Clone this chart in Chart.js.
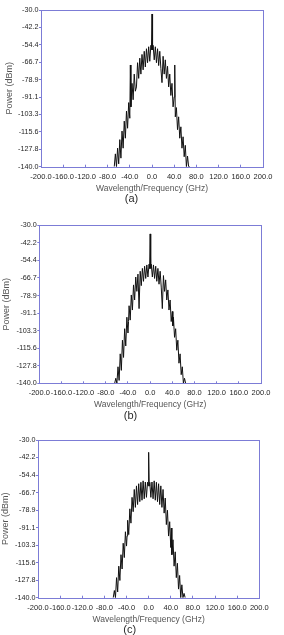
<!DOCTYPE html>
<html><head><meta charset="utf-8">
<script src="https://cdn.jsdelivr.net/npm/chart.js@4"></script>
<style>
html,body{margin:0;padding:0;background:#fff;width:284px;height:635px;overflow:hidden}
canvas{position:absolute;left:0}
</style></head><body>
<canvas id="ca" width="284" height="210" style="top:0px"></canvas>
<canvas id="cb" width="284" height="215" style="top:210px"></canvas>
<canvas id="cc" width="284" height="210" style="top:425px"></canvas>
<script>
// Frequency offsets (GHz) at which the spectra are sampled
const freq = [-68,-66,-64,-62,-60,-58,-56,-54,-52,-50,-48,-46,-44,-42,-40,
  -39,
  -38,-36,-34,-32,-30,-28,-26,-24,-22,-20,-18,-16,-14,-12,-10,-8,-6,-4,-2,
  -1,0,1,
  2,4,6,8,10,12,14,16,18,20,22,24,26,28,30,32,34,36,38,40,
  41,
  42,44,46,48,50,52,54,56,58,60,62,64,66,68];

// Power (dBm), panel (a)
const powerA = [-140,-131,-140,-127,-138,-121,-134,-115,-127,-108,-120,-101,-113,-95,-106,
  -68.6,
  -98,-81.5,-93,-75,-87,-84,-67,-78,-63.8,-75,-61.2,-72,-59,-70,-57.2,-67,-55.8,-66,-54.8,
  -58,-32.8,-58,
  -54.8,-65,-55.8,-67,-57.2,-69,-59,-71,-81,-62.5,-75,-65,-78,-69.5,-84,-75,-90,-81.5,-98,-91,
  -68.6,
  -105,-98.5,-114,-105,-120,-112,-127,-119,-133,-125,-140,-132.5,-140,-140];

// Power (dBm), panel (b)
const powerB = [null,null,-140,-136.5,-140,-128.5,-138,-119.5,-131,-110,-122,-102,-114,-94,-105,
  -97,
  -86,-96,-78.5,-89,-71.5,-82,-66,-76,-64,-88,-62,-72,-60,-69,-58.5,-67,-57.6,-66,-57.1,
  -60,-36,-60,
  -57.1,-66,-57.6,-67,-58.5,-69,-60,-71,-62,-73,-88,-65,-76,-68,-82,-75,-89,-82,-97,-90,
  -100,
  -94,-108,-102,-117,-110,-126,-119.5,-134,-128.5,-140,-136.5,-140,null,null];

// Power (dBm), panel (c)
const powerC = [null,null,-140,-135,-140,-126,-136,-118,-128,-110,-120,-102,-112,-94,-104,
  -97,
  -86,-96,-78,-88,-70,-80,-64.5,-77,-62,-75,-60.5,-73,-59.5,-72,-58.5,-71,-59.3,-70,-59.5,
  -62,-38.6,-62,
  -59.5,-70,-59.3,-71,-58.5,-72,-59.5,-73,-60.5,-75,-62,-77,-64.5,-81,-70.5,-89,-79,-97,-87,-105,
  -91.4,
  -110,-99.6,-118,-108,-126,-116,-134,-124.5,-140,-131,-140,-137,-140,null];

const panelLabels = ['(a)', '(b)', '(c)'];
const xTickValues = [-200,-160,-120,-80,-40,0,40,80,120,160,200];
const yTickValues = [-30,-42.22,-54.44,-66.67,-78.89,-91.11,-103.33,-115.56,-127.78,-140];
const yTickLabels = ['-30.0','-42.2','-54.4','-66.7','-78.9','-91.1','-103.3','-115.6','-127.8','-140.0'];
const xTitle = 'Wavelength/Frequency (GHz)';
const yTitle = 'Power (dBm)';

const FRAME = '#7c7cd6';
const FONT = "'Liberation Sans', Arial, sans-serif";

const framePlugin = {
  id: 'frame',
  afterDatasetsDraw(chart) {
    const a = chart.chartArea, c = chart.ctx;
    c.save();
    c.strokeStyle = FRAME;
    c.lineWidth = 1;
    c.strokeRect(Math.round(a.left) + 0.5, Math.round(a.top) + 0.5,
      Math.round(a.right - a.left), Math.round(a.bottom - a.top));
    c.restore();
  }
};

function makePanel(id, power, label, g) {
  new Chart(document.getElementById(id), {
    type: 'line',
    data: {
      datasets: [{
        data: freq.map((f, i) => ({ x: f, y: power[i] })),
        borderColor: '#111',
        borderWidth: 1,
        pointRadius: 0,
        tension: 0,
        spanGaps: false
      }]
    },
    options: {
      responsive: false,
      animation: false,
      devicePixelRatio: 1,
      layout: { padding: { top: g.top, left: 0, right: g.right, bottom: g.bottom } },
      plugins: {
        legend: { display: false },
        tooltip: { enabled: false },
        title: {
          display: true, position: 'bottom', text: label, color: '#2a2a2a',
          font: { family: FONT, size: 11, lineHeight: 0.8, weight: 'normal' }, padding: 0
        }
      },
      scales: {
        x: {
          type: 'linear', min: -200, max: 200,
          afterFit(s) { s.height = g.xh; },
          afterBuildTicks(s) { s.ticks = xTickValues.map(v => ({ value: v })); },
          ticks: {
            autoSkip: false, maxRotation: 0, minRotation: 0, padding: 7.5, color: '#262626',
            font: { family: FONT, size: 7.5 }, callback: v => Number(v).toFixed(1)
          },
          grid: { drawOnChartArea: false, drawTicks: true, tickLength: -2, color: FRAME },
          border: { display: false },
          title: {
            display: true, text: xTitle, color: '#555',
            font: { family: FONT, size: 8.5, lineHeight: 1 }, padding: { top: 0, bottom: g.xtp }
          }
        },
        y: {
          type: 'linear', min: -140, max: -30,
          afterFit(s) { s.width = g.left; },
          afterBuildTicks(s) { s.ticks = yTickValues.map(v => ({ value: v })); },
          ticks: {
            autoSkip: false, padding: 0.5, color: '#262626',
            font: { family: FONT, size: 7.2 }, callback: (v, i) => yTickLabels[i]
          },
          grid: { drawOnChartArea: false, drawTicks: true, tickLength: 2, color: FRAME },
          border: { display: false },
          title: {
            display: true, text: yTitle, color: '#555',
            font: { family: FONT, size: 9, lineHeight: 1 }, padding: { top: g.ytp, bottom: 0 }
          }
        }
      }
    },
    plugins: [framePlugin]
  });
}

makePanel('ca', powerA, panelLabels[0], { top: 10, right: 21, bottom: 6.6, xh: 27.9, xtp: 1.35, left: 41, ytp: 5.5 });
makePanel('cb', powerB, panelLabels[1], { top: 15.3, right: 23, bottom: 4.9, xh: 28, xtp: 2, left: 39.3, ytp: 2.2 });
makePanel('cc', powerC, panelLabels[2], { top: 15, right: 24.7, bottom: 0.6, xh: 27.9, xtp: 1.35, left: 38, ytp: 1.2 });
</script>
</body></html>
